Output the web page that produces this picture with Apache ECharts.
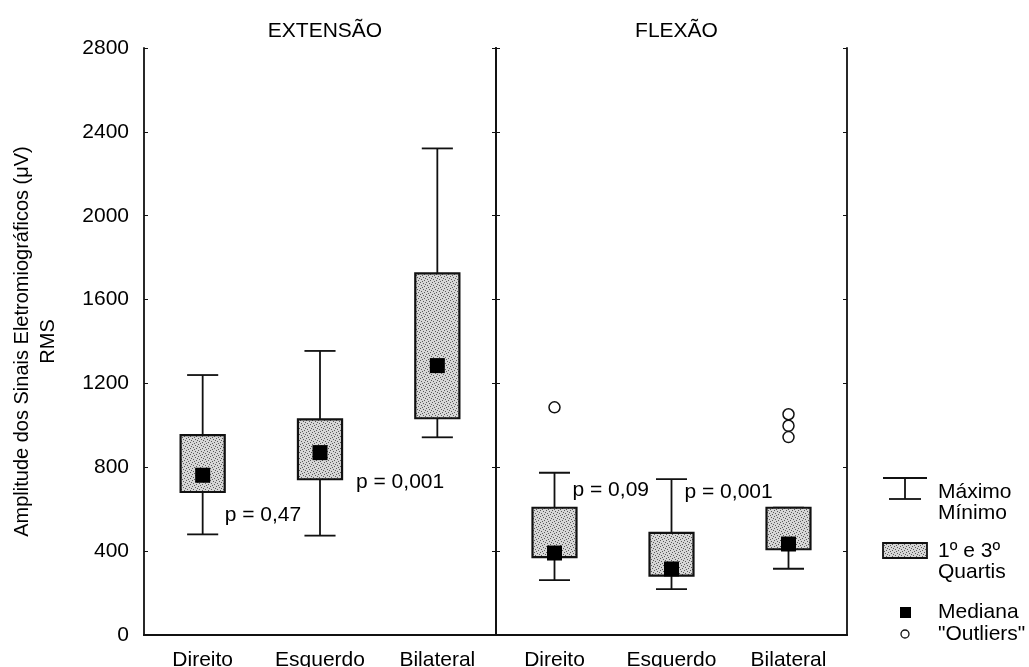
<!DOCTYPE html>
<html><head><meta charset="utf-8">
<script src="https://cdn.jsdelivr.net/npm/echarts@6/dist/echarts.min.js"></script>
<style>html,body{margin:0;padding:0;background:#fff}#c{width:1029px;height:667px}</style>
</head><body><div id="c"></div><script>
// ---- data ----
const categories = ['Direito', 'Esquerdo', 'Bilateral'];
const panelTitles = ['EXTENSÃO', 'FLEXÃO'];
const yTickValues = [0, 400, 800, 1200, 1600, 2000, 2400, 2800];
// [min, Q1, median, Q3, max]
const extensao = [[480, 682, 762, 953, 1240], [474, 743, 870, 1029, 1355], [943, 1034, 1285, 1725, 2321]];
const flexao = [[262, 371, 391, 607, 774], [219, 283, 315, 487, 744], [316, 409, 434, 607, 607]];
const outliersExtensao = [];
const outliersFlexao = [[0, 1086], [2, 1053], [2, 998], [2, 944]];
const pValuesExtensao = [[0, 572, 'p = 0,47'], [1, 730, 'p = 0,001']];
const pValuesFlexao = [[0, 692, 'p = 0,09'], [1, 682, 'p = 0,001']];
const legendLabels = ['Máximo\nMínimo', '1º e 3º\nQuartis', 'Mediana', '"Outliers"'];

// ---- style ----
const FONT = '"Liberation Sans", Arial, sans-serif';
const FS = 21;
const INK = '#000';
const pLabelOffsets = [[22, 36], [18, 13]];
function makePattern() {
  const c = document.createElement('canvas');
  c.width = 6; c.height = 6;
  const g = c.getContext('2d');
  g.fillStyle = '#d6d6d6'; g.fillRect(0, 0, 6, 6);
  g.fillStyle = '#5a5a5a';
  [[0,0],[3,1],[1,3],[4,4],[5,2],[2,5]].forEach(p => g.fillRect(p[0], p[1], 1, 1));
  return c;
}
const pattern = { image: makePattern(), repeat: 'repeat' };

const chart = echarts.init(document.getElementById('c'), null, { renderer: 'canvas' });

const gridLeft = 144, gridMid = 496, gridRight = 847, gridTop = 48, gridBottom = 635;
const grids = [
  { left: gridLeft, width: gridMid - gridLeft, top: gridTop, height: gridBottom - gridTop, outerBoundsMode: 'none', containLabel: false },
  { left: gridMid, width: gridRight - gridMid, top: gridTop, height: gridBottom - gridTop, outerBoundsMode: 'none', containLabel: false }
];

function renderBox(params, api) {
  const cat = api.value(0);
  const v = [1, 2, 3, 4, 5].map(i => api.value(i));
  const p = v.map(val => api.coord([cat, val]));
  const x = p[0][0];
  const band = api.size([1, 0])[0];
  const bw = band * 0.376, cw = band * 0.265, ms = band * 0.128;
  const ls = { stroke: '#111', lineWidth: 1.8 };
  return {
    type: 'group',
    children: [
      { type: 'line', shape: { x1: x, y1: p[3][1], x2: x, y2: p[4][1] }, style: ls },
      { type: 'line', shape: { x1: x, y1: p[1][1], x2: x, y2: p[0][1] }, style: ls },
      { type: 'line', shape: { x1: x - cw / 2, y1: p[4][1], x2: x + cw / 2, y2: p[4][1] }, style: ls },
      { type: 'line', shape: { x1: x - cw / 2, y1: p[0][1], x2: x + cw / 2, y2: p[0][1] }, style: ls },
      { type: 'rect', shape: { x: x - bw / 2, y: p[3][1], width: bw, height: p[1][1] - p[3][1] },
        style: { fill: pattern, stroke: '#111', lineWidth: 2.2 } },
      { type: 'rect', shape: { x: x - ms / 2, y: p[2][1] - ms / 2, width: ms, height: ms },
        style: { fill: '#000' } }
    ]
  };
}

const xAxes = [], yAxes = [], series = [];
[extensao, flexao].forEach((data, gi) => {
  xAxes.push({
    type: 'category', gridIndex: gi, data: categories, position: 'bottom',
    axisLine: { lineStyle: { color: '#111', width: 1.8 } },
    axisTick: { inside: true, length: 4, lineStyle: { color: '#111' } },
    axisLabel: { color: INK, fontSize: FS, fontFamily: FONT, margin: 15 }
  });
  xAxes.push({
    type: 'category', gridIndex: gi, data: categories, position: 'top',
    axisLine: { lineStyle: { color: '#111', width: 1.8 } },
    axisTick: { inside: true, length: 4, lineStyle: { color: '#111' } },
    axisLabel: { show: false }
  });
  yAxes.push({
    type: 'value', gridIndex: gi, min: 0, max: 2800, interval: 400, position: 'left',
    axisLine: { show: true, lineStyle: { color: '#111', width: 1.8 } },
    axisTick: { show: true, inside: true, length: 4, lineStyle: { color: '#111' } },
    splitLine: { show: false },
    axisLabel: gi === 0 ? { color: INK, fontSize: FS, fontFamily: FONT, margin: 15,
      formatter: v => yTickValues.includes(v) ? String(v) : '' } : { show: false },
    name: gi === 0 ? 'Amplitude dos Sinais Eletromiográficos (μV)\nRMS' : '',
    nameLocation: 'middle', nameGap: 83, nameRotate: 90,
    nameTextStyle: { color: INK, fontSize: 20, fontFamily: FONT, lineHeight: 26 }
  });
  yAxes.push({
    type: 'value', gridIndex: gi, min: 0, max: 2800, interval: 400, position: 'right',
    axisLine: { show: true, lineStyle: { color: '#111', width: 1.8 } },
    axisTick: { show: true, inside: true, length: 4, lineStyle: { color: '#111' } },
    splitLine: { show: false }, axisLabel: { show: false }
  });
  series.push({
    type: 'custom', xAxisIndex: gi * 2, yAxisIndex: gi * 2,
    data: data.map((d, i) => [i].concat(d)),
    renderItem: renderBox, silent: true, z: 3
  });
  const outs = gi === 0 ? outliersExtensao : outliersFlexao;
  series.push({
    type: 'scatter', xAxisIndex: gi * 2, yAxisIndex: gi * 2,
    data: outs, symbol: 'circle', symbolSize: 11,
    itemStyle: { color: '#fff', borderColor: '#111', borderWidth: 1.5, opacity: 1 }, z: 4
  });
  const pv = gi === 0 ? pValuesExtensao : pValuesFlexao;
  series.push({
    type: 'scatter', xAxisIndex: gi * 2, yAxisIndex: gi * 2, symbolSize: 0, z: 5,
    itemStyle: { opacity: 1 },
    data: pv.map((d, i) => ({
      value: [d[0], d[1]],
      label: { show: true, formatter: d[2], position: [pLabelOffsets[gi][i], 0], opacity: 1,
        align: 'left', verticalAlign: 'middle', color: INK, fontSize: FS, fontFamily: FONT }
    }))
  });
});

const lx = 905, tx = 938;
const lStroke = { stroke: '#111', lineWidth: 1.8 };
const tFont = FS + 'px ' + FONT;
const legendGraphics = [
  { type: 'line', shape: { x1: lx - 22, y1: 478, x2: lx + 22, y2: 478 }, style: lStroke },
  { type: 'line', shape: { x1: lx - 16, y1: 499, x2: lx + 16, y2: 499 }, style: lStroke },
  { type: 'line', shape: { x1: lx, y1: 478, x2: lx, y2: 499 }, style: lStroke },
  { type: 'rect', shape: { x: lx - 22, y: 543, width: 44, height: 15 }, style: { fill: pattern, stroke: '#111', lineWidth: 1.8 } },
  { type: 'rect', shape: { x: lx - 5, y: 607, width: 11, height: 11 }, style: { fill: '#000' } },
  { type: 'circle', shape: { cx: lx, cy: 634, r: 4 }, style: { fill: '#fff', stroke: '#111', lineWidth: 1.3 } },
  { type: 'text', x: tx, y: 492 - 10.5, style: { text: legendLabels[0], font: tFont, fill: INK, lineHeight: 21, verticalAlign: 'top' } },
  { type: 'text', x: tx, y: 551 - 10.5, style: { text: legendLabels[1], font: tFont, fill: INK, lineHeight: 21, verticalAlign: 'top' } },
  { type: 'text', x: tx, y: 612, style: { text: legendLabels[2], font: tFont, fill: INK, verticalAlign: 'middle' } },
  { type: 'text', x: tx, y: 634, style: { text: legendLabels[3], font: tFont, fill: INK, verticalAlign: 'middle' } }
];

chart.setOption({
  animation: false,
  backgroundColor: '#fff',
  title: panelTitles.map((t, i) => ({
    text: t, left: (grids[i].left + grids[i].width / 2), top: 16, textAlign: 'center',
    textStyle: { color: INK, fontSize: FS, fontWeight: 'normal', fontFamily: FONT }
  })),
  grid: grids,
  xAxis: xAxes,
  yAxis: yAxes,
  series: series,
  graphic: legendGraphics
});
</script></body></html>
